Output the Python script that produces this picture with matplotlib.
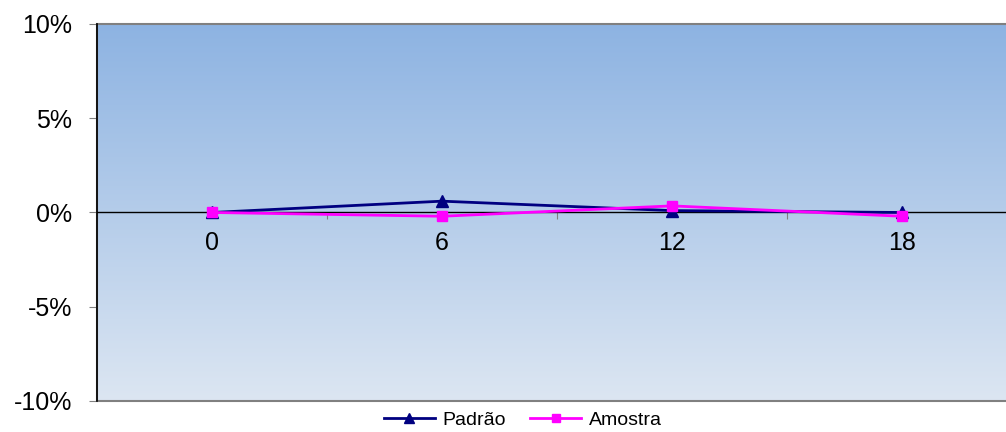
import numpy as np
import matplotlib.pyplot as plt
from matplotlib.patches import Rectangle
from matplotlib.ticker import FuncFormatter

categories = ['0', '6', '12', '18']
padrao = [0.0, 0.6, 0.1, 0.0]
amostra = [0.0, -0.2, 0.35, -0.2]

plt.rcParams['font.family'] = ['Liberation Sans', 'DejaVu Sans']

fig = plt.figure(figsize=(10.06, 4.32), dpi=100)
ax = fig.add_axes([0.0964, 0.0718, 0.9145, 0.8727])

x = np.arange(len(categories))
ax.set_xlim(-0.5, len(categories) - 0.5)
ax.set_ylim(-10, 10)

# vertical gradient background of the plot area
grad = np.linspace(0, 1, 256).reshape(-1, 1)
top = np.array([0x8D, 0xB3, 0xE2]) / 255
bottom = np.array([0xDC, 0xE6, 0xF2]) / 255
img = top + (bottom - top) * grad[:, :, None]
ax.imshow(img, extent=[0, 1, 0, 1], transform=ax.transAxes, aspect='auto', zorder=0)

for s in ['top', 'right', 'left']:
    ax.spines[s].set_visible(False)
ax.add_patch(Rectangle((0, 0), 1, 1, transform=ax.transAxes, fill=False,
                       edgecolor='#808080', lw=1.5, zorder=1, clip_on=False))
ax.plot([0, 0], [0, 1], transform=ax.transAxes, color='black', lw=1.2, zorder=2, clip_on=False)

# category axis crossing at zero
ax.spines['bottom'].set_position(('data', 0))
ax.spines['bottom'].set_color('black')
ax.spines['bottom'].set_linewidth(1)
ax.set_xticks(np.arange(-0.5, len(categories)))
ax.set_xticklabels([])
ax.tick_params(axis='x', which='major', length=5, direction='out', color='#808080')
ax.set_xticks(x, minor=True)
ax.set_xticklabels(categories, minor=True, fontsize=18)
ax.tick_params(axis='x', which='minor', length=0, pad=13)

ax.set_yticks([-10, -5, 0, 5, 10])
ax.yaxis.set_major_formatter(FuncFormatter(lambda v, p: f'{v:.0f}%'))
ax.tick_params(axis='y', length=6, color='#808080', labelsize=18, pad=12)

ax.plot(x, padrao, color='#000080', lw=2, marker='^', ms=8, label='Padrão', zorder=3)
ax.plot(x, amostra, color='#FF00FF', lw=2, marker='s', ms=7, label='Amostra', zorder=4)

ax.legend(loc='center', bbox_to_anchor=(0.463, -0.05), bbox_transform=ax.transAxes,
          ncol=2, frameon=False, fontsize=14, handlelength=2.6, handletextpad=0.4,
          columnspacing=1.25, borderpad=0, markerscale=0.9)

fig.savefig('out.png', dpi=100)
